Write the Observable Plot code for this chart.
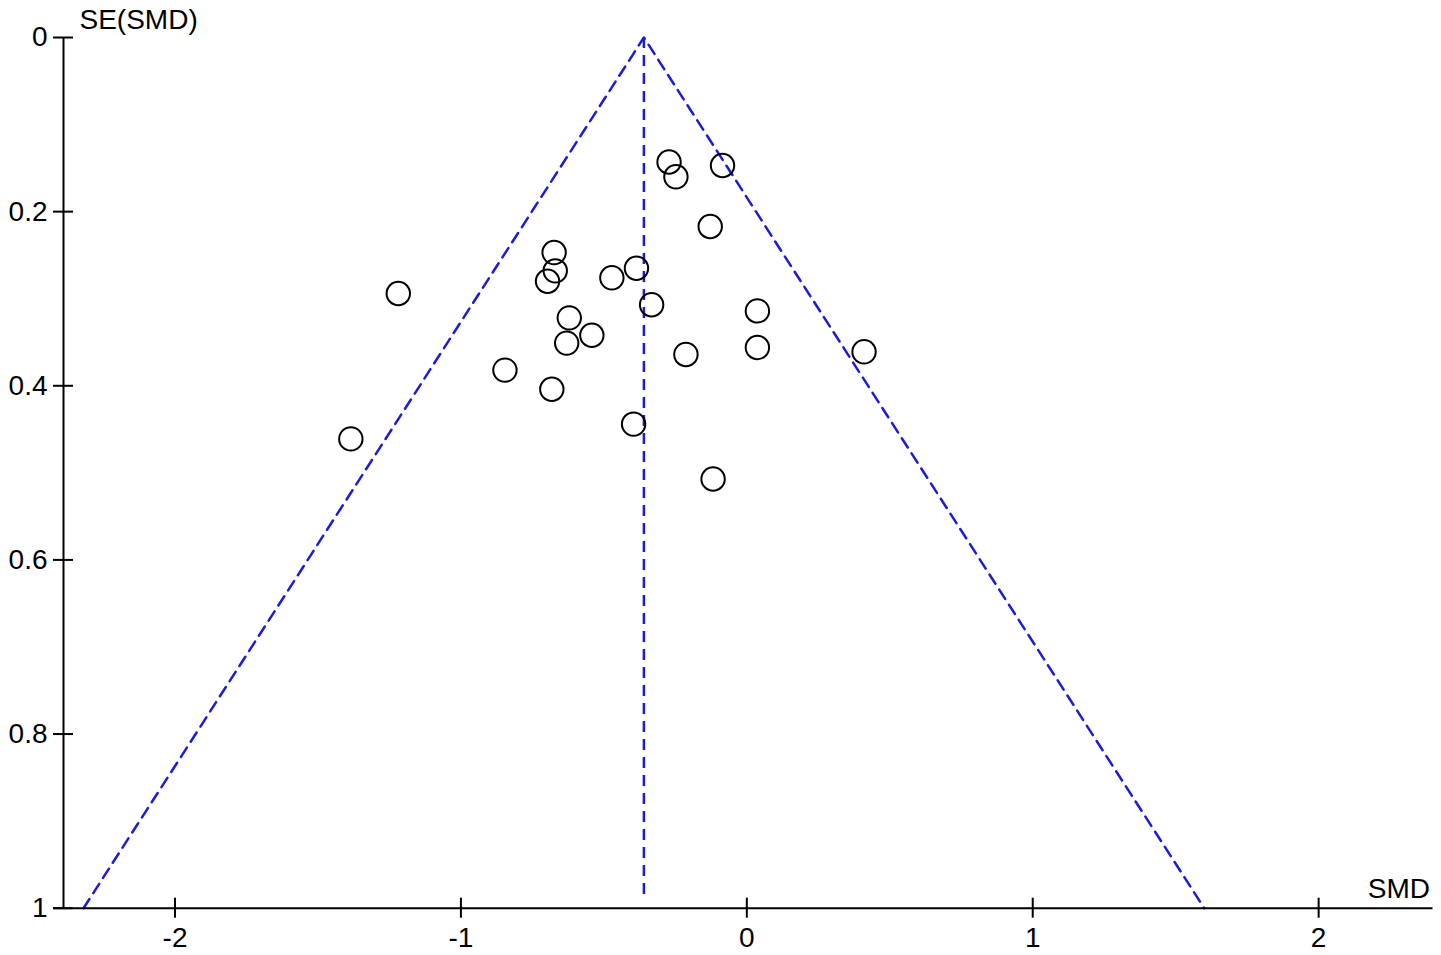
<!DOCTYPE html>
<html>
<head>
<meta charset="utf-8">
<script src="https://cdn.jsdelivr.net/npm/d3@7"></script>
<script src="https://cdn.jsdelivr.net/npm/@observablehq/plot@0.6"></script>
<style>
  html, body { margin: 0; padding: 0; background: #fff; }
  #chart svg { display: block; }
</style>
</head>
<body>
<div id="chart"></div>
<script>
// Study effect sizes (SMD) and their standard errors
const smd = [-0.272, -0.248, -0.085, -0.128, -0.674, -0.670, -0.697, -0.472, -0.386, -0.333,
             0.037, -1.219, -0.621, -0.542, -0.630, -0.846, -0.682, -0.396, -1.385, 0.037,
             -0.213, 0.410, -0.118];
const se  = [0.143, 0.160, 0.147, 0.217, 0.247, 0.268, 0.280, 0.276, 0.265, 0.307,
             0.314, 0.294, 0.322, 0.342, 0.351, 0.382, 0.404, 0.444, 0.461, 0.356,
             0.364, 0.361, 0.507];
const pooled = -0.36;          // pooled SMD (funnel centre)
const z = 1.96;                // 95% limits
const funnelSE = [0, 1];       // funnel drawn from SE 0 to SE 1
const xTicks = [-2, -1, 0, 1, 2];
const yTicks = [0, 0.2, 0.4, 0.6, 0.8, 1];
const xLabel = "SMD";
const yLabel = "SE(SMD)";

const xDomain = [-2.39, 2.4];
const yDomain = [0, 1];

const studies = smd.map((d, i) => ({smd: d, se: se[i]}));
const funnel = [
  {x: pooled - z * funnelSE[1], y: funnelSE[1]},
  {x: pooled, y: funnelSE[0]},
  {x: pooled + z * funnelSE[1], y: funnelSE[1]}
];

const blue = "#1c1cd8";
const font = "'Liberation Sans', Arial, sans-serif";
const fs = 28;

const chart = Plot.plot({
  width: 1441,
  height: 955,
  marginLeft: 63,
  marginRight: 8.5,
  marginTop: 37,
  marginBottom: 47.3,
  x: {domain: xDomain, axis: null},
  y: {domain: yDomain, reverse: true, axis: null},
  style: {fontFamily: font, fontSize: fs + "px", background: "#fff"},
  marks: [
    // funnel limits
    Plot.line(funnel, {x: "x", y: "y", stroke: blue, strokeWidth: 2.5, strokeDasharray: "11,7"}),
    Plot.ruleX([pooled], {y1: funnelSE[0], y2: funnelSE[1], insetBottom: 8, stroke: blue, strokeWidth: 2.5, strokeDasharray: "11,7"}),
    // y axis line + ticks
    Plot.ruleX([xDomain[0]], {y1: yDomain[0], y2: yDomain[1], stroke: "#000", strokeWidth: 2}),
    Plot.ruleY(yTicks, {x1: xDomain[0], x2: xDomain[0], insetLeft: -10, insetRight: -10, stroke: "#000", strokeWidth: 2}),
    Plot.text(yTicks, {x: xDomain[0], y: d => d, text: d => String(d), dx: -16, textAnchor: "end", lineAnchor: "middle", fill: "#000"}),
    // x axis line + ticks
    Plot.ruleY([yDomain[1]], {x1: xDomain[0], x2: xDomain[1], insetLeft: -10, stroke: "#000", strokeWidth: 2}),
    Plot.ruleX(xTicks, {y1: yDomain[1], y2: yDomain[1], insetTop: -10, insetBottom: -10, stroke: "#000", strokeWidth: 2}),
    Plot.text(xTicks, {x: d => d, y: yDomain[1], text: d => String(d), dy: 39, lineAnchor: "bottom", fill: "#000"}),
    // axis titles
    Plot.text([yLabel], {x: xDomain[0], y: yDomain[0], text: d => d, dx: 16, dy: -9, textAnchor: "start", lineAnchor: "bottom", fill: "#000"}),
    Plot.text([xLabel], {x: xDomain[1], y: yDomain[1], text: d => d, dx: -3, dy: -10, textAnchor: "end", lineAnchor: "bottom", fill: "#000"}),
    // studies
    Plot.dot(studies, {x: "smd", y: "se", r: 11.7, stroke: "#000", strokeWidth: 2, fill: "none"})
  ]
});
document.getElementById("chart").appendChild(chart);
</script>
</body>
</html>
